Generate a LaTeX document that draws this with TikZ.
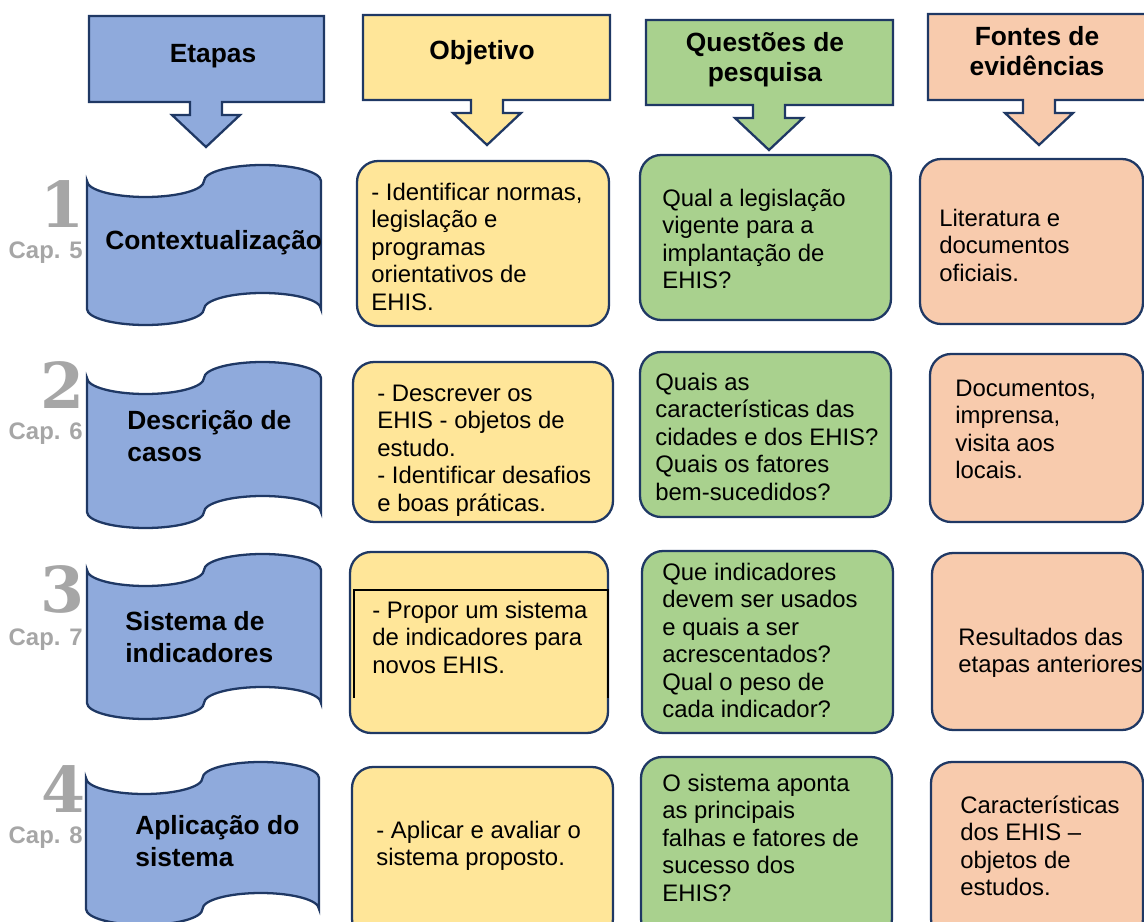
\documentclass[tikz,border=0pt]{standalone}
\usepackage{fontspec}
\setmainfont{Liberation Sans}
\newfontfamily\numfont{DejaVu Serif}
\definecolor{blue1}{RGB}{143, 170, 220}
\definecolor{yellow1}{RGB}{255, 230, 153}
\definecolor{green1}{RGB}{169, 209, 142}
\definecolor{orange1}{RGB}{248, 203, 173}
\definecolor{navy1}{RGB}{31, 56, 100}
\definecolor{gray1}{RGB}{166, 166, 166}

% punched tape banner: x0, x1, top midline, bottom midline
\newcommand{\tapeshape}[4]{%
  \pgfmathsetmacro{\tq}{(#2-#1)/4}
  \pgfmathsetmacro{\tk}{0.5523*\tq}
  \pgfmathsetmacro{\tb}{0.5523*16}
  \draw[tape] (#1,#3) .. controls +(0,\tb) and +(-\tk,0) .. ++(\tq,16)
    .. controls +(\tk,0) and +(0,\tb) .. ++(\tq,-16)
    .. controls +(0,-\tb) and +(-\tk,0) .. ++(\tq,-16)
    .. controls +(\tk,0) and +(0,-\tb) .. ++(\tq,16)
    -- (#2,#4)
    .. controls +(0,-\tb) and +(\tk,0) .. ++(-\tq,-16)
    .. controls +(-\tk,0) and +(0,-\tb) .. ++(-\tq,16)
    .. controls +(0,\tb) and +(\tk,0) .. ++(-\tq,16)
    .. controls +(-\tk,0) and +(0,\tb) .. ++(-\tq,-16)
    -- cycle;}

% header box with down arrow: fill, left, right, top, bottom, arrow x
\newcommand{\headbox}[6]{%
  \pgfmathsetmacro{\hsl}{#6-16}\pgfmathsetmacro{\hsr}{#6+16}
  \pgfmathsetmacro{\hhl}{#6-34}\pgfmathsetmacro{\hhr}{#6+34}
  \pgfmathsetmacro{\hsb}{#5+13}\pgfmathsetmacro{\htip}{#5+45}
  \draw[headbox, fill=#1] (#2,#4) -- (#3,#4) -- (#3,#5) -- (\hsr,#5) -- (\hsr,\hsb)
    -- (\hhr,\hsb) -- (#6,\htip) -- (\hhl,\hsb) -- (\hsl,\hsb) -- (\hsl,#5)
    -- (#2,#5) -- cycle;}

\begin{document}
\begin{tikzpicture}[x=0.02cm, y=-0.02cm,
  tape/.style={draw=navy1, fill=blue1, line width=1.3pt},
  headbox/.style={draw=navy1, line width=1.3pt},
  cell/.style={draw=navy1, line width=1.3pt, rounded corners=12pt},
  txt/.style={anchor=north west, inner sep=0pt, align=left, font=\fontsize{13.6}{15.6}\selectfont},
  btxt/.style={anchor=north west, inner sep=0pt, align=left, font=\bfseries\fontsize{15}{18.1}\selectfont},
  htxt/.style={anchor=north, inner sep=0pt, align=center, font=\bfseries\fontsize{15}{17}\selectfont},
  numtxt/.style={anchor=base, inner sep=0pt, text=gray1, font=\numfont\bfseries\fontsize{36}{36}\selectfont},
  captxt/.style={anchor=base east, inner sep=0pt, text=gray1, font=\bfseries\fontsize{13.6}{15.6}\selectfont}]
  \useasboundingbox (0,0) rectangle (1144,922);
  \clip (0,0) rectangle (1144,922);

  % column headers
  \headbox{blue1}{89}{324}{16}{102}{206}
  \headbox{yellow1}{363}{610}{15}{100}{487}
  \headbox{green1}{646}{893}{20}{105}{769}
  \headbox{orange1}{928}{1150}{14}{100}{1039}
  \node[htxt] (hEtapas) at (213,41.5) {\strut Etapas};
  \node[htxt] (hObj) at (482,38.5) {\strut Objetivo};
  \node[htxt] (hQuest) at (765,30.5) {\strut Questões de\\pesquisa};
  \node[htxt] (hFontes) at (1037,24.5) {\strut Fontes de\\evidências};

  % stages
  \node[numtxt] (n1) at (63,228) {1};
  \node[numtxt] (n2) at (63,409) {2};
  \node[numtxt] (n3) at (63,612) {3};
  \node[numtxt] (n4) at (64,812) {4};
  \tapeshape{87}{321}{181}{309}
  \tapeshape{87}{321}{378}{512}
  \tapeshape{87}{321}{570}{703}
  \tapeshape{86}{319}{778}{909}
  \node[captxt] (c5) at (83,258.6) {Cap. 5};
  \node[captxt] (c6) at (83,439.6) {Cap. 6};
  \node[captxt] (c7) at (83,645.6) {Cap. 7};
  \node[captxt] (c8) at (83,843.6) {Cap. 8};
  \node[btxt] (s1) at (105,227) {\strut Contextualização};
  \node[btxt] (s2) at (127,407) {\strut Descrição de\\casos};
  \node[btxt] (s3) at (125,608) {\strut Sistema de\\indicadores};
  \node[btxt] (s4) at (135,812) {\strut Aplicação do\\sistema};

  % objetivo
  \draw[cell, fill=yellow1] (357,161) rectangle (609,326);
  \draw[cell, fill=yellow1] (353,362) rectangle (613,522);
  \draw[cell, fill=yellow1] (350,552) rectangle (608,733);
  \draw[cell, fill=yellow1] (352,767) rectangle (613,940);
  \draw[black, line width=1.1pt] (354,698) -- (354,590) -- (608,590) -- (608,698);
  \node[txt] (o1) at (371,181) {\strut - Identificar normas,\\legislação e\\programas\\orientativos de\\EHIS.};
  \node[txt] (o2) at (377,382) {\strut - Descrever os\\EHIS - objetos de\\estudo.\\- Identificar desafios\\e boas práticas.};
  \node[txt] (o3) at (372,599) {\strut - Propor um sistema\\de indicadores para\\novos EHIS.};
  \node[txt] (o4) at (376,819) {\strut - Aplicar e avaliar o\\sistema proposto.};

  % questoes
  \draw[cell, fill=green1] (640,155) rectangle (891,320);
  \draw[cell, fill=green1] (640,352) rectangle (891,517);
  \draw[cell, fill=green1] (642,551) rectangle (893,733);
  \draw[cell, fill=green1] (641,757) rectangle (892,940);
  \node[txt] (q1) at (662,187) {\strut Qual a legislação\\vigente para a\\implantação de\\EHIS?};
  \node[txt] (q2) at (655,371) {\strut Quais as\\características das\\cidades e dos EHIS?\\Quais os fatores\\bem-sucedidos?};
  \node[txt] (q3) at (662,561) {\strut Que indicadores\\devem ser usados\\e quais a ser\\acrescentados?\\Qual o peso de\\cada indicador?};
  \node[txt] (q4) at (662,772) {\strut O sistema aponta\\as principais\\falhas e fatores de\\sucesso dos\\EHIS?};

  % fontes
  \draw[cell, fill=orange1] (920,159) rectangle (1143,324);
  \draw[cell, fill=orange1] (930,354) rectangle (1143,522);
  \draw[cell, fill=orange1] (932,553) rectangle (1143,730);
  \draw[cell, fill=orange1] (931,762) rectangle (1143,940);
  \node[txt] (f1) at (939,207) {\strut Literatura e\\documentos\\oficiais.};
  \node[txt] (f2) at (955,377) {\strut Documentos,\\imprensa,\\visita aos\\locais.};
  \node[txt] (f3) at (958,626) {\strut Resultados das\\etapas anteriores};
  \node[txt] (f4) at (960,794) {\strut Características\\dos EHIS --\\objetos de\\estudos.};
\end{tikzpicture}
\end{document}
